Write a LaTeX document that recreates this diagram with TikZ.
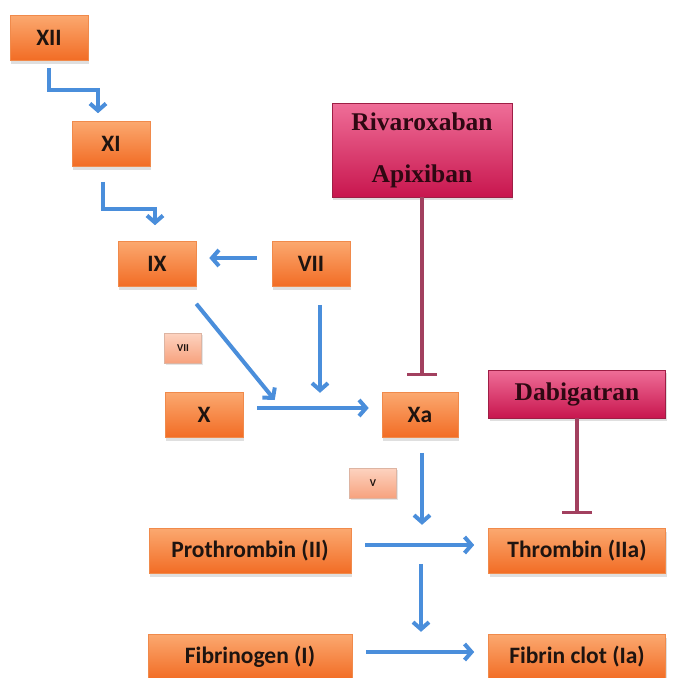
\documentclass[tikz,border=0pt]{standalone}
\usepackage{fontspec}
\setmainfont{Carlito}
\newfontfamily\serifb{Liberation Serif}
\usetikzlibrary{arrows.meta,shadows,calc}
\definecolor{otop}{HTML}{FBA86F}
\definecolor{obot}{HTML}{F26C24}
\definecolor{oedge}{HTML}{F08A4B}
\definecolor{ptop}{HTML}{EF6E98}
\definecolor{pbot}{HTML}{C8164E}
\definecolor{pedge}{HTML}{9E1E45}
\definecolor{arrblue}{HTML}{4A8EDB}
\definecolor{inhib}{HTML}{A2405F}
\definecolor{txt}{HTML}{1E1410}
\definecolor{ptxt}{HTML}{2E0812}
\definecolor{stop}{HTML}{FDD3C0}
\definecolor{sbot}{HTML}{F7A27E}
\tikzset{
  obox/.style={draw=oedge, line width=0.6pt, top color=otop, bottom color=obot,
    minimum height=45pt, inner sep=0pt, text=txt,
    font=\fontsize{23.5}{27}\selectfont\bfseries,
    drop shadow={shadow xshift=1pt, shadow yshift=-3pt, opacity=0.25}},
  pbox/.style={draw=pedge, line width=0.8pt, top color=ptop, bottom color=pbot,
    inner sep=0pt, text=ptxt, align=center,
    font=\serifb\fontsize{25.5}{52}\selectfont\bfseries,
    drop shadow={shadow xshift=1pt, shadow yshift=-3pt, opacity=0.25}},
  sbox/.style={draw=sbot!80!black!60, line width=0.5pt, top color=stop, bottom color=sbot,
    inner sep=0pt, text=txt, minimum height=30pt,
    font=\fontsize{10.5}{12}\selectfont\bfseries,
    drop shadow={shadow xshift=1pt, shadow yshift=-2pt, opacity=0.2}},
  flow/.style={draw=arrblue, line width=4pt, -{Straight Barb[length=7pt,width=16pt,line width=4pt]}},
  block/.style={draw=inhib, line width=3.4pt, -{Bar[width=30pt,line width=3.4pt]}}
}
\begin{document}
\begin{tikzpicture}[x=1pt,y=-1pt]
\useasboundingbox (0,0) rectangle (684,677);
\fill[white] (0,0) rectangle (684,677);
\clip (0,0) rectangle (684,677);

\node[obox, minimum width=78pt] (xii) at (49,38) {XII};
\node[obox, minimum width=78pt] (xi) at (111,144) {XI};
\node[obox, minimum width=78pt] (ix) at (157,264) {IX};
\node[obox, minimum width=78pt] (vii) at (311,264) {VII};
\node[obox, minimum width=78pt] (x) at (204,415) {X};
\node[obox, minimum width=76pt] (xa) at (420,415) {Xa};
\node[obox, minimum width=202pt] (pro) at (250,551) {Prothrombin (II)};
\node[obox, minimum width=177pt] (thr) at (577,551) {Thrombin (IIa)};
\node[obox, minimum width=204pt] (fib) at (250,657) {Fibrinogen (I)};
\node[obox, minimum width=177pt] (clot) at (577,657) {Fibrin clot (Ia)};

\node[pbox, minimum width=180pt, minimum height=94pt] (riva) at (422,150) {Rivaroxaban\\Apixiban};
\node[pbox, minimum width=177pt, minimum height=48pt] (dab) at (577,394) {Dabigatran};

\node[sbox, minimum width=37pt] (svii) at (183,348) {VII};
\node[sbox, minimum width=47pt] (sv) at (373,483) {V};

% flows
\draw[flow] ([yshift=-7pt]xii.south) |- ([xshift=-13pt,yshift=31pt]xi.north)
  -- ([xshift=-13pt,yshift=8pt]xi.north);
\draw[flow] ([xshift=-8pt,yshift=-15pt]xi.south) |- ([xshift=-2pt,yshift=32pt]ix.north)
  -- ([xshift=-2pt,yshift=16pt]ix.north);
\draw[flow] ([xshift=-15pt,yshift=6pt]vii.west) -- ([xshift=13pt,yshift=6pt]ix.east);
\coordinate (j1) at ([xshift=-85pt,yshift=15pt]xa.west);
\draw[flow] ([yshift=-17pt]ix.south east) -- ([xshift=-22pt]j1);
\draw[flow] ([xshift=9pt,yshift=-18pt]vii.south) -- ([xshift=9pt,yshift=-106pt]vii.south);
\draw[flow] ([xshift=14pt,yshift=7pt]x.east) -- ([xshift=-13pt,yshift=7pt]xa.west);
\draw[flow] ([xshift=2pt,yshift=-15pt]xa.south) -- ([xshift=2pt,yshift=-87pt]xa.south);
\draw[flow] ([xshift=14pt,yshift=6pt]pro.east) -- ([xshift=-14pt,yshift=6pt]thr.west);
\draw[flow] ([xshift=171pt,yshift=10pt]pro.south) -- ([xshift=171pt,yshift=-58pt]pro.south);
\draw[flow] ([xshift=14pt,yshift=5pt]fib.east) -- ([xshift=-14pt,yshift=5pt]clot.west);

% inhibitions
\draw[block] (riva.south) -- ([xshift=2pt,yshift=16pt]xa.north);
\draw[block] (dab.south) -- ([yshift=14pt]thr.north);
\end{tikzpicture}
\end{document}
